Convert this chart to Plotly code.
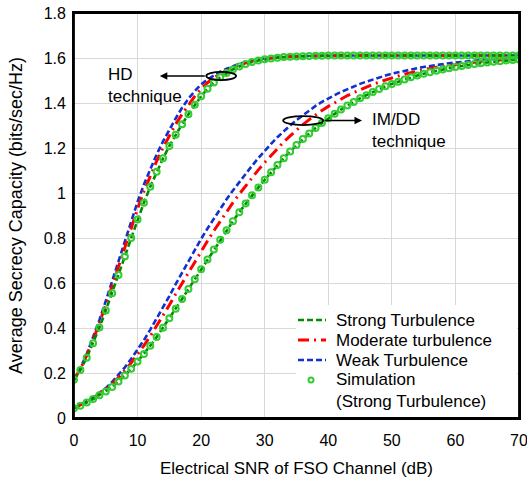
import plotly.graph_objects as go

snr_db = list(range(0, 71))

# HD technique
hd_strong = [0.170, 0.213, 0.268, 0.332, 0.402, 0.478, 0.555, 0.636, 0.718, 0.800,
             0.882, 0.957, 1.028, 1.094, 1.154, 1.209, 1.259, 1.306, 1.350, 1.392,
             1.430, 1.463, 1.491, 1.514, 1.533, 1.549, 1.562, 1.573, 1.582, 1.589,
             1.594, 1.598, 1.601, 1.604, 1.606, 1.607, 1.608, 1.609, 1.610, 1.610,
             1.611, 1.611, 1.611, 1.611, 1.611, 1.611, 1.611, 1.611, 1.611, 1.611,
             1.611, 1.611, 1.611, 1.611, 1.611, 1.611, 1.611, 1.611, 1.611, 1.611,
             1.611, 1.611, 1.611, 1.611, 1.611, 1.611, 1.611, 1.611, 1.611, 1.611,
             1.611]
hd_moderate = [0.170, 0.218, 0.278, 0.346, 0.423, 0.503, 0.587, 0.673, 0.759, 0.847,
               0.929, 1.007, 1.078, 1.142, 1.201, 1.254, 1.306, 1.350, 1.392, 1.430,
               1.463, 1.490, 1.512, 1.530, 1.544, 1.557, 1.568, 1.578, 1.586, 1.592,
               1.596, 1.600, 1.603, 1.605, 1.606, 1.607, 1.608, 1.609, 1.610, 1.611,
               1.611, 1.611, 1.611, 1.611, 1.611, 1.611, 1.611, 1.611, 1.611, 1.611,
               1.611, 1.611, 1.611, 1.611, 1.611, 1.611, 1.611, 1.611, 1.611, 1.611,
               1.611, 1.611, 1.611, 1.611, 1.611, 1.611, 1.611, 1.611, 1.611, 1.611,
               1.611]
hd_weak = [0.170, 0.221, 0.284, 0.357, 0.436, 0.520, 0.608, 0.698, 0.788, 0.878,
           0.961, 1.038, 1.109, 1.171, 1.229, 1.283, 1.332, 1.379, 1.419, 1.453,
           1.483, 1.505, 1.524, 1.539, 1.552, 1.564, 1.574, 1.582, 1.589, 1.594,
           1.598, 1.601, 1.604, 1.606, 1.607, 1.608, 1.609, 1.610, 1.611, 1.611,
           1.611, 1.611, 1.611, 1.611, 1.611, 1.611, 1.611, 1.611, 1.611, 1.611,
           1.611, 1.611, 1.611, 1.611, 1.611, 1.611, 1.611, 1.611, 1.611, 1.611,
           1.611, 1.611, 1.611, 1.611, 1.611, 1.611, 1.611, 1.611, 1.611, 1.611,
           1.611]

# IM/DD technique
imdd_strong = [0.043, 0.055, 0.069, 0.084, 0.101, 0.118, 0.138, 0.162, 0.189, 0.219,
               0.251, 0.285, 0.321, 0.360, 0.401, 0.443, 0.486, 0.529, 0.573, 0.617,
               0.661, 0.705, 0.749, 0.792, 0.834, 0.875, 0.915, 0.953, 0.990, 1.025,
               1.059, 1.092, 1.124, 1.155, 1.185, 1.213, 1.240, 1.265, 1.289, 1.311,
               1.332, 1.352, 1.371, 1.389, 1.405, 1.421, 1.435, 1.449, 1.462, 1.474,
               1.485, 1.495, 1.505, 1.514, 1.522, 1.530, 1.537, 1.543, 1.549, 1.555,
               1.560, 1.565, 1.569, 1.573, 1.577, 1.580, 1.583, 1.586, 1.589, 1.591,
               1.593]
imdd_moderate = [0.044, 0.057, 0.072, 0.089, 0.107, 0.127, 0.151, 0.179, 0.211, 0.245,
                 0.282, 0.322, 0.364, 0.409, 0.454, 0.502, 0.551, 0.599, 0.647, 0.695,
                 0.742, 0.787, 0.832, 0.875, 0.917, 0.957, 0.995, 1.032, 1.069, 1.103,
                 1.136, 1.168, 1.198, 1.227, 1.254, 1.280, 1.304, 1.326, 1.348, 1.367,
                 1.385, 1.402, 1.418, 1.433, 1.446, 1.459, 1.471, 1.483, 1.493, 1.503,
                 1.512, 1.520, 1.528, 1.535, 1.542, 1.548, 1.554, 1.559, 1.563, 1.568,
                 1.572, 1.575, 1.579, 1.582, 1.585, 1.588, 1.590, 1.592, 1.594, 1.595,
                 1.597]
imdd_weak = [0.045, 0.058, 0.074, 0.092, 0.111, 0.133, 0.160, 0.191, 0.225, 0.263,
             0.303, 0.346, 0.393, 0.441, 0.490, 0.542, 0.595, 0.646, 0.696, 0.747,
             0.796, 0.842, 0.887, 0.930, 0.972, 1.011, 1.049, 1.085, 1.121, 1.155,
             1.188, 1.218, 1.248, 1.275, 1.300, 1.324, 1.346, 1.367, 1.387, 1.405,
             1.421, 1.435, 1.449, 1.462, 1.474, 1.485, 1.495, 1.505, 1.514, 1.522,
             1.530, 1.537, 1.543, 1.549, 1.555, 1.560, 1.565, 1.569, 1.573, 1.577,
             1.580, 1.583, 1.586, 1.589, 1.591, 1.593, 1.595, 1.596, 1.597, 1.598,
             1.599]

legend_names = ["Strong Turbulence", "Moderate turbulence", "Weak Turbulence",
                "Simulation<br>(Strong Turbulence)"]
x_ticks = [0, 10, 20, 30, 40, 50, 60, 70]
y_ticks = [0, 0.2, 0.4, 0.6, 0.8, 1, 1.2, 1.4, 1.6, 1.8]

FONT = "Liberation Sans, Arial, sans-serif"
GREEN = "#008a00"
RED = "#ff0000"
BLUE = "#1030d0"
SIMC = "#33cc33"
DASH_S = "6px,3px"
DASH_M = "11px,5px,2px,5px"
DASH_W = "6px,3px"

# plot-area geometry (pixels)
W, H = 527, 481
ML, MR, MT, MB = 74, 8, 13, 63
PW, PH = W - ML - MR, H - MT - MB
XR, YR = [0, 70], [0, 1.8]


def px_x(px):
    """page pixel -> x data value (used only to place the hand-made legend)"""
    return XR[0] + (px - ML) / PW * (XR[1] - XR[0])


def px_y(py):
    return YR[0] + (MT + PH - py) / PH * (YR[1] - YR[0])


fig = go.Figure()

groups = [(hd_strong, hd_moderate, hd_weak), (imdd_strong, imdd_moderate, imdd_weak)]
for strong, moderate, weak in groups:
    fig.add_trace(go.Scatter(x=snr_db, y=weak, mode="lines", name=legend_names[2],
                             showlegend=False,
                             line=dict(color=BLUE, width=2.6, dash=DASH_W)))
    fig.add_trace(go.Scatter(x=snr_db, y=moderate, mode="lines", name=legend_names[1],
                             showlegend=False,
                             line=dict(color=RED, width=3, dash=DASH_M)))
    fig.add_trace(go.Scatter(x=snr_db, y=strong, mode="lines", name=legend_names[0],
                             showlegend=False,
                             line=dict(color=GREEN, width=2.6, dash=DASH_S)))
for strong, moderate, weak in groups:
    fig.add_trace(go.Scatter(x=snr_db, y=strong, mode="markers", name="Simulation",
                             showlegend=False,
                             marker=dict(symbol="circle-open", size=6, color=SIMC,
                                         line=dict(width=2, color=SIMC))))

# ellipses marking the curve groups
fig.add_shape(type="circle", xref="x", yref="y", x0=20.8, x1=25.5, y0=1.502, y1=1.538,
              line=dict(color="black", width=1.8))
fig.add_shape(type="circle", xref="x", yref="y", x0=32.9, x1=39.2, y0=1.302, y1=1.342,
              line=dict(color="black", width=1.8))

# arrows
fig.add_annotation(x=13.5, y=1.52, ax=20.8, ay=1.52, xref="x", yref="y", axref="x", ayref="y",
                   text="", showarrow=True, arrowhead=2, arrowsize=1, arrowwidth=1.5,
                   arrowcolor="black")
fig.add_annotation(x=45.3, y=1.322, ax=39.2, ay=1.322, xref="x", yref="y", axref="x", ayref="y",
                   text="", showarrow=True, arrowhead=2, arrowsize=1, arrowwidth=1.5,
                   arrowcolor="black")

fig.add_annotation(x=5.0, y=1.476, xref="x", yref="y", text="HD<br>technique", showarrow=False,
                   xanchor="left", yanchor="middle", align="left",
                   font=dict(family=FONT, size=17, color="black"))
fig.add_annotation(x=46.6, y=1.276, xref="x", yref="y", text="IM/DD<br>technique", showarrow=False,
                   xanchor="left", yanchor="middle", align="left",
                   font=dict(family=FONT, size=17, color="black"))

# legend (drawn by hand to reproduce the reference's compact spacing)
fig.add_shape(type="rect", xref="x", yref="y", x0=px_x(296), x1=px_x(517),
              y0=px_y(417), y1=px_y(305), fillcolor="white", line=dict(width=0),
              layer="above")
leg_rows = [320, 340, 360]
leg_styles = [(GREEN, 2.6, DASH_S), (RED, 3, DASH_M), (BLUE, 2.6, DASH_W)]
for row, (col, wd, ds), name in zip(leg_rows, leg_styles, legend_names[:3]):
    fig.add_shape(type="line", xref="x", yref="y", x0=px_x(298), x1=px_x(326),
                  y0=px_y(row), y1=px_y(row), line=dict(color=col, width=wd, dash=ds),
                  layer="above")
    fig.add_annotation(x=px_x(334), y=px_y(row), xref="x", yref="y", text=name,
                       showarrow=False, xanchor="left", yanchor="middle",
                       font=dict(family=FONT, size=17, color="black"))
fig.add_shape(type="circle", xref="x", yref="y", x0=px_x(308.5), x1=px_x(313.5),
              y0=px_y(382.5), y1=px_y(377.5), line=dict(color=SIMC, width=2),
              fillcolor="white", layer="above")
fig.add_annotation(x=px_x(334), y=px_y(390), xref="x", yref="y", text=legend_names[3],
                   showarrow=False, xanchor="left", yanchor="middle", align="left",
                   font=dict(family=FONT, size=17, color="black"))

# plot frame
fig.add_shape(type="rect", xref="paper", yref="paper", x0=0, x1=1, y0=0, y1=1,
              line=dict(color="black", width=1.8), layer="above")

axis_common = dict(showgrid=True, gridcolor="#d9d9d9", gridwidth=1, showline=True,
                   linecolor="black", linewidth=1.8, mirror=True, ticks="", zeroline=False,
                   automargin=False, ticklabeloverflow="allow")

fig.update_xaxes(range=XR, tickvals=x_ticks, ticktext=[str(v) for v in x_ticks],
                 ticklabelstandoff=7,
                 tickfont=dict(family=FONT, size=16, color="black"),
                 title=dict(text="Electrical SNR of FSO Channel (dB)",
                            font=dict(family=FONT, size=17, color="black"), standoff=14),
                 **axis_common)
fig.update_yaxes(range=YR, tickvals=y_ticks, ticktext=[f"{v:g}" for v in y_ticks],
                 ticklabelstandoff=3,
                 tickfont=dict(family=FONT, size=16, color="black"),
                 title=dict(text="Average Secrecy Capacity (bits/sec/Hz)",
                            font=dict(family=FONT, size=18, color="black"), standoff=16),
                 **axis_common)

fig.update_layout(
    width=W, height=H,
    margin=dict(l=ML, r=MR, t=MT, b=MB),
    paper_bgcolor="white", plot_bgcolor="white",
    font=dict(family=FONT, size=16, color="black"),
    showlegend=False,
)

fig.write_html("out.html", config={"displayModeBar": False},
               post_script="document.body.style.margin='0';document.body.style.overflow='hidden';")
